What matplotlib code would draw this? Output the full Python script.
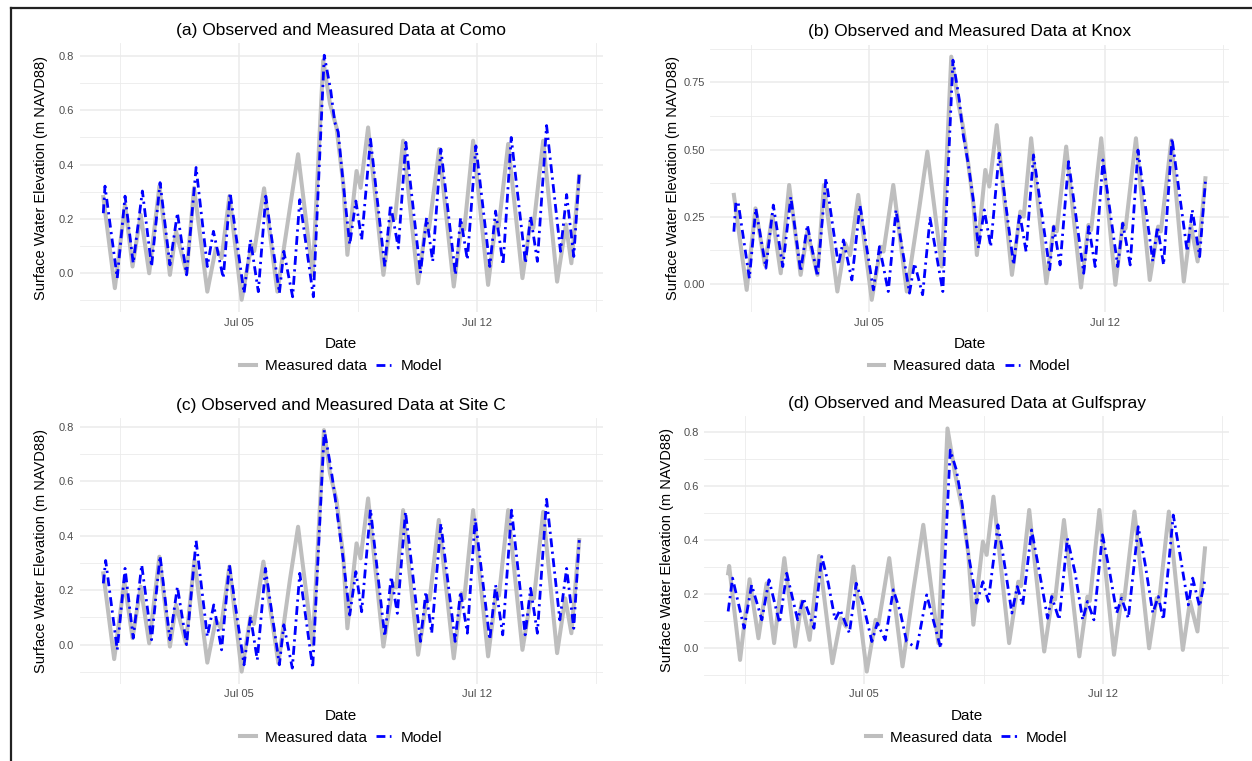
import numpy as np
import pandas as pd
import matplotlib
matplotlib.use("Agg")
import matplotlib.pyplot as plt
import matplotlib.dates as mdates
from matplotlib.lines import Line2D

plt.rcParams['font.family'] = ['Liberation Sans', 'DejaVu Sans']

# time in days since 2018-07-01 00:00, values in m NAVD88
como_meas_t = [0.0, 0.34, 0.64, 0.86, 1.10, 1.35, 1.65, 1.96, 2.14, 2.45, 2.67, 3.06, 3.31, 3.48, 3.71, 4.07,
               4.36, 4.44, 4.73, 5.12, 5.49, 5.73, 6.16, 6.47, 6.67, 6.86, 7.06, 7.18, 7.45, 7.57, 7.79, 8.24,
               8.48, 8.58, 8.82, 9.26, 9.49, 9.58, 9.88, 10.31, 10.54, 10.62, 10.88, 11.32, 11.55, 11.63, 11.91,
               12.33, 12.57, 12.65, 12.94, 13.35, 13.61, 13.77, 14.0]
como_meas_v = [0.28, -0.057, 0.252, 0.023, 0.215, -0.002, 0.32, -0.008, 0.153, -0.002, 0.314, -0.07, 0.091, 0.054,
               0.283, -0.1, 0.104, 0.08, 0.312, -0.07, 0.24, 0.438, -0.008, 0.785, 0.624, 0.537, 0.327, 0.066,
               0.376, 0.314, 0.537, -0.008, 0.215, 0.2, 0.488, -0.039, 0.178, 0.16, 0.457, -0.051, 0.178, 0.16,
               0.488, -0.045, 0.19, 0.17, 0.476, -0.02, 0.19, 0.165, 0.488, -0.033, 0.178, 0.035, 0.358]
como_model_t = [0.0, 0.05, 0.41, 0.64, 0.88, 1.15, 1.42, 1.67, 1.96, 2.18, 2.45, 2.73, 3.06, 3.24, 3.53, 3.73,
                4.14, 4.33, 4.56, 4.78, 5.18, 5.31, 5.57, 5.78, 6.18, 6.5, 6.69, 6.81, 6.91, 7.06, 7.25, 7.43,
                7.6, 7.86, 8.28, 8.45, 8.68, 8.9, 9.33, 9.51, 9.69, 9.93, 10.36, 10.51, 10.71, 10.96, 11.37,
                11.54, 11.76, 12.0, 12.42, 12.57, 12.77, 13.04, 13.45, 13.63, 13.84, 14.0]
como_model_v = [0.22, 0.32, -0.02, 0.283, 0.035, 0.302, 0.023, 0.333, 0.029, 0.221, -0.008, 0.389, 0.023, 0.153,
                -0.02, 0.296, -0.076, 0.122, -0.07, 0.283, -0.076, 0.079, -0.089, 0.27, -0.089, 0.804, 0.674,
                0.556, 0.52, 0.327, 0.104, 0.265, 0.122, 0.494, 0.023, 0.252, 0.091, 0.482, -0.002, 0.203,
                0.042, 0.457, -0.008, 0.203, 0.048, 0.469, 0.023, 0.228, 0.029, 0.5, 0.035, 0.209, 0.042,
                0.544, 0.079, 0.289, 0.06, 0.364]

knox_meas_t = [0.0, 0.38, 0.64, 0.92, 1.14, 1.39, 1.64, 1.98, 2.18, 2.48, 2.67, 3.07, 3.3, 3.45, 3.69, 4.09,
               4.36, 4.44, 4.73, 5.13, 5.5, 5.74, 6.17, 6.45, 6.67, 6.79, 6.96, 7.11, 7.21, 7.46, 7.58, 7.8,
               8.25, 8.5, 8.6, 8.82, 9.27, 9.49, 9.58, 9.86, 10.3, 10.52, 10.6, 10.9, 11.32, 11.54, 11.62,
               11.93, 12.34, 12.59, 12.67, 12.98, 13.35, 13.56, 13.76, 13.99]
knox_meas_v = [0.331, -0.023, 0.281, 0.07, 0.256, 0.039, 0.368, 0.033, 0.194, 0.033, 0.368, -0.029, 0.151, 0.107,
               0.331, -0.06, 0.138, 0.12, 0.368, -0.029, 0.281, 0.492, 0.064, 0.846, 0.666, 0.591, 0.442, 0.293,
               0.107, 0.424, 0.362, 0.591, 0.033, 0.269, 0.25, 0.542, 0.002, 0.213, 0.195, 0.511, -0.014, 0.219,
               0.2, 0.542, -0.004, 0.225, 0.205, 0.542, 0.014, 0.213, 0.195, 0.535, 0.008, 0.219, 0.083, 0.393]
knox_model_t = [0.0, 0.06, 0.13, 0.46, 0.65, 0.95, 1.17, 1.45, 1.69, 1.98, 2.18, 2.48, 2.73, 3.1, 3.25, 3.5,
                3.74, 4.14, 4.32, 4.58, 4.81, 5.21, 5.36, 5.6, 5.82, 6.2, 6.5, 6.69, 6.79, 6.96, 7.11, 7.26,
                7.43, 7.62, 7.87, 8.3, 8.48, 8.67, 8.89, 9.37, 9.49, 9.68, 9.93, 10.38, 10.53, 10.72, 10.95,
                11.39, 11.54, 11.76, 11.99, 12.43, 12.57, 12.75, 13.0, 13.45, 13.6, 13.82, 13.99]
knox_model_v = [0.194, 0.306, 0.3, 0.02, 0.281, 0.058, 0.293, 0.064, 0.324, 0.045, 0.219, 0.027, 0.393, 0.07,
                0.163, 0.014, 0.293, -0.023, 0.138, -0.029, 0.275, -0.035, 0.076, -0.041, 0.244, -0.029, 0.833,
                0.684, 0.566, 0.442, 0.306, 0.132, 0.275, 0.138, 0.486, 0.07, 0.262, 0.12, 0.48, 0.052, 0.213,
                0.07, 0.455, 0.039, 0.213, 0.064, 0.461, 0.064, 0.225, 0.07, 0.498, 0.083, 0.213, 0.07, 0.542,
                0.12, 0.275, 0.101, 0.38]

sitec_meas_t = [0.0, 0.32, 0.62, 0.86, 1.10, 1.35, 1.65, 1.96, 2.14, 2.43, 2.68, 3.06, 3.31, 3.46, 3.71, 4.07,
                4.33, 4.43, 4.71, 5.15, 5.49, 5.73, 6.16, 6.49, 6.67, 6.86, 7.06, 7.18, 7.45, 7.57, 7.79, 8.24,
                8.53, 8.62, 8.82, 9.26, 9.53, 9.6, 9.87, 10.31, 10.54, 10.62, 10.88, 11.32, 11.57, 11.64, 11.91,
                12.33, 12.6, 12.67, 12.94, 13.35, 13.59, 13.77, 14.0]
sitec_meas_v = [0.262, -0.053, 0.232, 0.024, 0.213, 0.005, 0.323, -0.007, 0.146, 0.005, 0.311, -0.066, 0.091, 0.06,
                0.287, -0.099, 0.103, 0.076, 0.305, -0.068, 0.238, 0.433, 0.0, 0.788, 0.629, 0.531, 0.323, 0.06,
                0.372, 0.317, 0.537, -0.007, 0.225, 0.21, 0.494, -0.037, 0.177, 0.165, 0.458, -0.05, 0.189, 0.17,
                0.494, -0.043, 0.201, 0.18, 0.494, -0.019, 0.189, 0.17, 0.488, -0.031, 0.17, 0.042, 0.384]
sitec_model_t = [0.0, 0.07, 0.41, 0.64, 0.88, 1.13, 1.42, 1.67, 1.96, 2.18, 2.45, 2.73, 3.06, 3.25, 3.48, 3.71,
                 4.14, 4.33, 4.53, 4.77, 5.18, 5.31, 5.56, 5.78, 6.16, 6.5, 6.69, 6.81, 7.06, 7.25, 7.43, 7.6,
                 7.86, 8.28, 8.47, 8.65, 8.89, 9.33, 9.49, 9.66, 9.93, 10.35, 10.51, 10.71, 10.94, 11.37, 11.54,
                 11.75, 12.01, 12.41, 12.57, 12.77, 13.04, 13.43, 13.63, 13.84, 14.0]
sitec_model_v = [0.225, 0.309, -0.019, 0.28, 0.024, 0.293, 0.018, 0.326, 0.018, 0.213, 0.0, 0.382, 0.03, 0.146,
                 -0.019, 0.293, -0.074, 0.103, -0.056, 0.28, -0.074, 0.073, -0.086, 0.262, -0.086, 0.788, 0.653,
                 0.549, 0.311, 0.109, 0.268, 0.121, 0.497, 0.03, 0.25, 0.115, 0.488, 0.012, 0.195, 0.042, 0.445,
                 0.012, 0.195, 0.042, 0.464, 0.018, 0.219, 0.036, 0.494, 0.036, 0.207, 0.042, 0.534, 0.091, 0.28,
                 0.06, 0.384]

gulf_meas_t = [0.0, 0.03, 0.35, 0.63, 0.89, 1.13, 1.35, 1.65, 1.97, 2.16, 2.39, 2.67, 3.06, 3.31, 3.46, 3.68,
               4.07, 4.33, 4.41, 4.73, 5.12, 5.44, 5.73, 6.17, 6.44, 6.66, 6.86, 7.05, 7.2, 7.48, 7.59, 7.79,
               8.25, 8.52, 8.6, 8.84, 9.28, 9.53, 9.6, 9.86, 10.31, 10.55, 10.62, 10.9, 11.33, 11.56, 11.63,
               11.93, 12.36, 12.58, 12.65, 12.94, 13.35, 13.56, 13.78, 14.0]
gulf_meas_v = [0.277, 0.304, -0.043, 0.255, 0.037, 0.24, 0.019, 0.333, 0.007, 0.173, 0.031, 0.341, -0.055, 0.111,
               0.08, 0.302, -0.086, 0.105, 0.087, 0.333, -0.067, 0.216, 0.456, 0.019, 0.812, 0.646, 0.523, 0.351,
               0.087, 0.394, 0.345, 0.56, 0.019, 0.246, 0.23, 0.511, -0.012, 0.197, 0.18, 0.474, -0.03, 0.191,
               0.175, 0.511, -0.024, 0.197, 0.18, 0.505, 0.0, 0.185, 0.17, 0.505, -0.006, 0.173, 0.062, 0.369]
gulf_model_t = [0.0, 0.13, 0.47, 0.69, 0.99, 1.2, 1.51, 1.72, 2.04, 2.21, 2.52, 2.75, 2.94, 3.14, 3.29, 3.56,
                3.76, 3.97, 4.22, 4.38, 4.61, 4.85, 5.05, 5.24, 5.54, 5.83, 6.24, 6.52, 6.7, 6.86, 7.05, 7.3,
                7.48, 7.64, 7.92, 8.08, 8.33, 8.49, 8.65, 8.91, 9.11, 9.38, 9.5, 9.72, 9.96, 10.19, 10.41, 10.55,
                10.74, 10.99, 11.19, 11.41, 11.55, 11.75, 12.04, 12.24, 12.47, 12.63, 12.78, 13.07, 13.26, 13.51,
                13.64, 13.84, 14.0]
gulf_model_v = [0.136, 0.259, 0.074, 0.234, 0.105, 0.253, 0.093, 0.277, 0.105, 0.185, 0.074, 0.339, 0.24, 0.105,
                0.142, 0.056, 0.24, 0.16, 0.025, 0.093, 0.031, 0.216, 0.136, 0.025, 0.0, 0.197, 0.0, 0.732, 0.659,
                0.542, 0.351, 0.167, 0.246, 0.173, 0.456, 0.339, 0.13, 0.228, 0.16, 0.437, 0.302, 0.111, 0.191,
                0.105, 0.406, 0.277, 0.105, 0.173, 0.105, 0.419, 0.29, 0.13, 0.185, 0.111, 0.449, 0.314, 0.13,
                0.191, 0.105, 0.492, 0.351, 0.16, 0.259, 0.154, 0.253]

start = pd.Timestamp('2018-07-01')
W, H = 1252, 761


def to_time(days):
    return start + pd.to_timedelta(np.asarray(days), unit='D')


fig = plt.figure(figsize=(W / 100, H / 100), dpi=100)

# axes boxes in pixels: left, top, right, bottom
panels = [
    ("(a) Observed and Measured Data at Como", como_meas_t, como_meas_v, como_model_t, como_model_v,
     (79.5, 43, 603, 312), 0.2, 48),
    ("(b) Observed and Measured Data at Knox", knox_meas_t, knox_meas_v, knox_model_t, knox_model_v,
     (710.3, 44.5, 1229.3, 312), 0.25, 680),
    ("(c) Observed and Measured Data at Site C", sitec_meas_t, sitec_meas_v, sitec_model_t, sitec_model_v,
     (79.5, 418, 603, 683.7), 0.2, 48),
    ("(d) Observed and Measured Data at Gulfspray", gulf_meas_t, gulf_meas_v, gulf_model_t, gulf_model_v,
     (704.3, 416.3, 1228.8, 683.7), 0.2, 674),
]

grid_col = '#EBEBEB'
dotdash = (0, (3.2, 1.6, 0.8, 1.6))
for title, mt, mv, pt, pv, box, step, ylab_x in panels:
    l, t, r, b = box
    ax = fig.add_axes([l / W, 1 - b / H, (r - l) / W, (b - t) / H])
    ax.plot(to_time(mt), mv, color='#BEBEBE', lw=2.9, solid_joinstyle='round', zorder=3)
    ax.plot(to_time(pt), pv, color='blue', lw=2.0, linestyle=dotdash, zorder=4)

    lo = min(min(mv), min(pv))
    hi = max(max(mv), max(pv))
    pad = (hi - lo) * 0.05
    ax.set_ylim(lo - pad, hi + pad)
    ax.set_xlim(to_time([-0.7])[0], to_time([14.7])[0])

    ax.yaxis.set_major_locator(plt.MultipleLocator(step))
    ax.yaxis.set_minor_locator(plt.MultipleLocator(step / 2))
    if step == 0.25:
        ax.yaxis.set_major_formatter(plt.FormatStrFormatter('%.2f'))
    else:
        ax.yaxis.set_major_formatter(plt.FormatStrFormatter('%.1f'))
    ax.xaxis.set_major_locator(mdates.DayLocator(bymonthday=[5, 12]))
    ax.xaxis.set_major_formatter(mdates.DateFormatter('%b %d'))
    ax.set_xticks(to_time([0.5, 7.5, 14.5]), minor=True)

    ax.grid(True, which='major', color=grid_col, lw=1.1)
    ax.grid(True, which='minor', color=grid_col, lw=0.6)
    ax.set_axisbelow(True)
    for s in ax.spines.values():
        s.set_visible(False)
    ax.tick_params(which='both', length=0, labelsize=8, labelcolor='#4D4D4D', pad=4)

    ax.set_title(title, fontsize=12.5, pad=6)
    ax.set_xlabel("Date", fontsize=11)
    ax.set_ylabel("Surface Water Elevation (m NAVD88)", fontsize=10.5)
    hpx = b - t
    wpx = r - l
    ax.xaxis.set_label_coords(0.5, -25 / hpx)
    ax.yaxis.set_label_coords((ylab_x - l) / wpx, 0.5)

    handles = [Line2D([], [], color='#BEBEBE', lw=2.9),
               Line2D([], [], color='blue', lw=2.0, linestyle=dotdash)]
    ax.legend(handles, ["Measured data", "Model"], loc='center', ncol=2, frameon=False,
              bbox_to_anchor=(0.5, -54 / hpx), fontsize=11, handlelength=1.0,
              handletextpad=0.6, columnspacing=0.6)

# frame lines at top and left of the picture
fig.add_artist(Line2D([10.5 / W, 10.5 / W], [0, 1 - 8 / H], color='#222222', lw=1.6))
fig.add_artist(Line2D([10.5 / W, 1], [1 - 8 / H, 1 - 8 / H], color='#222222', lw=1.6))

fig.savefig("out.png", dpi=100)
